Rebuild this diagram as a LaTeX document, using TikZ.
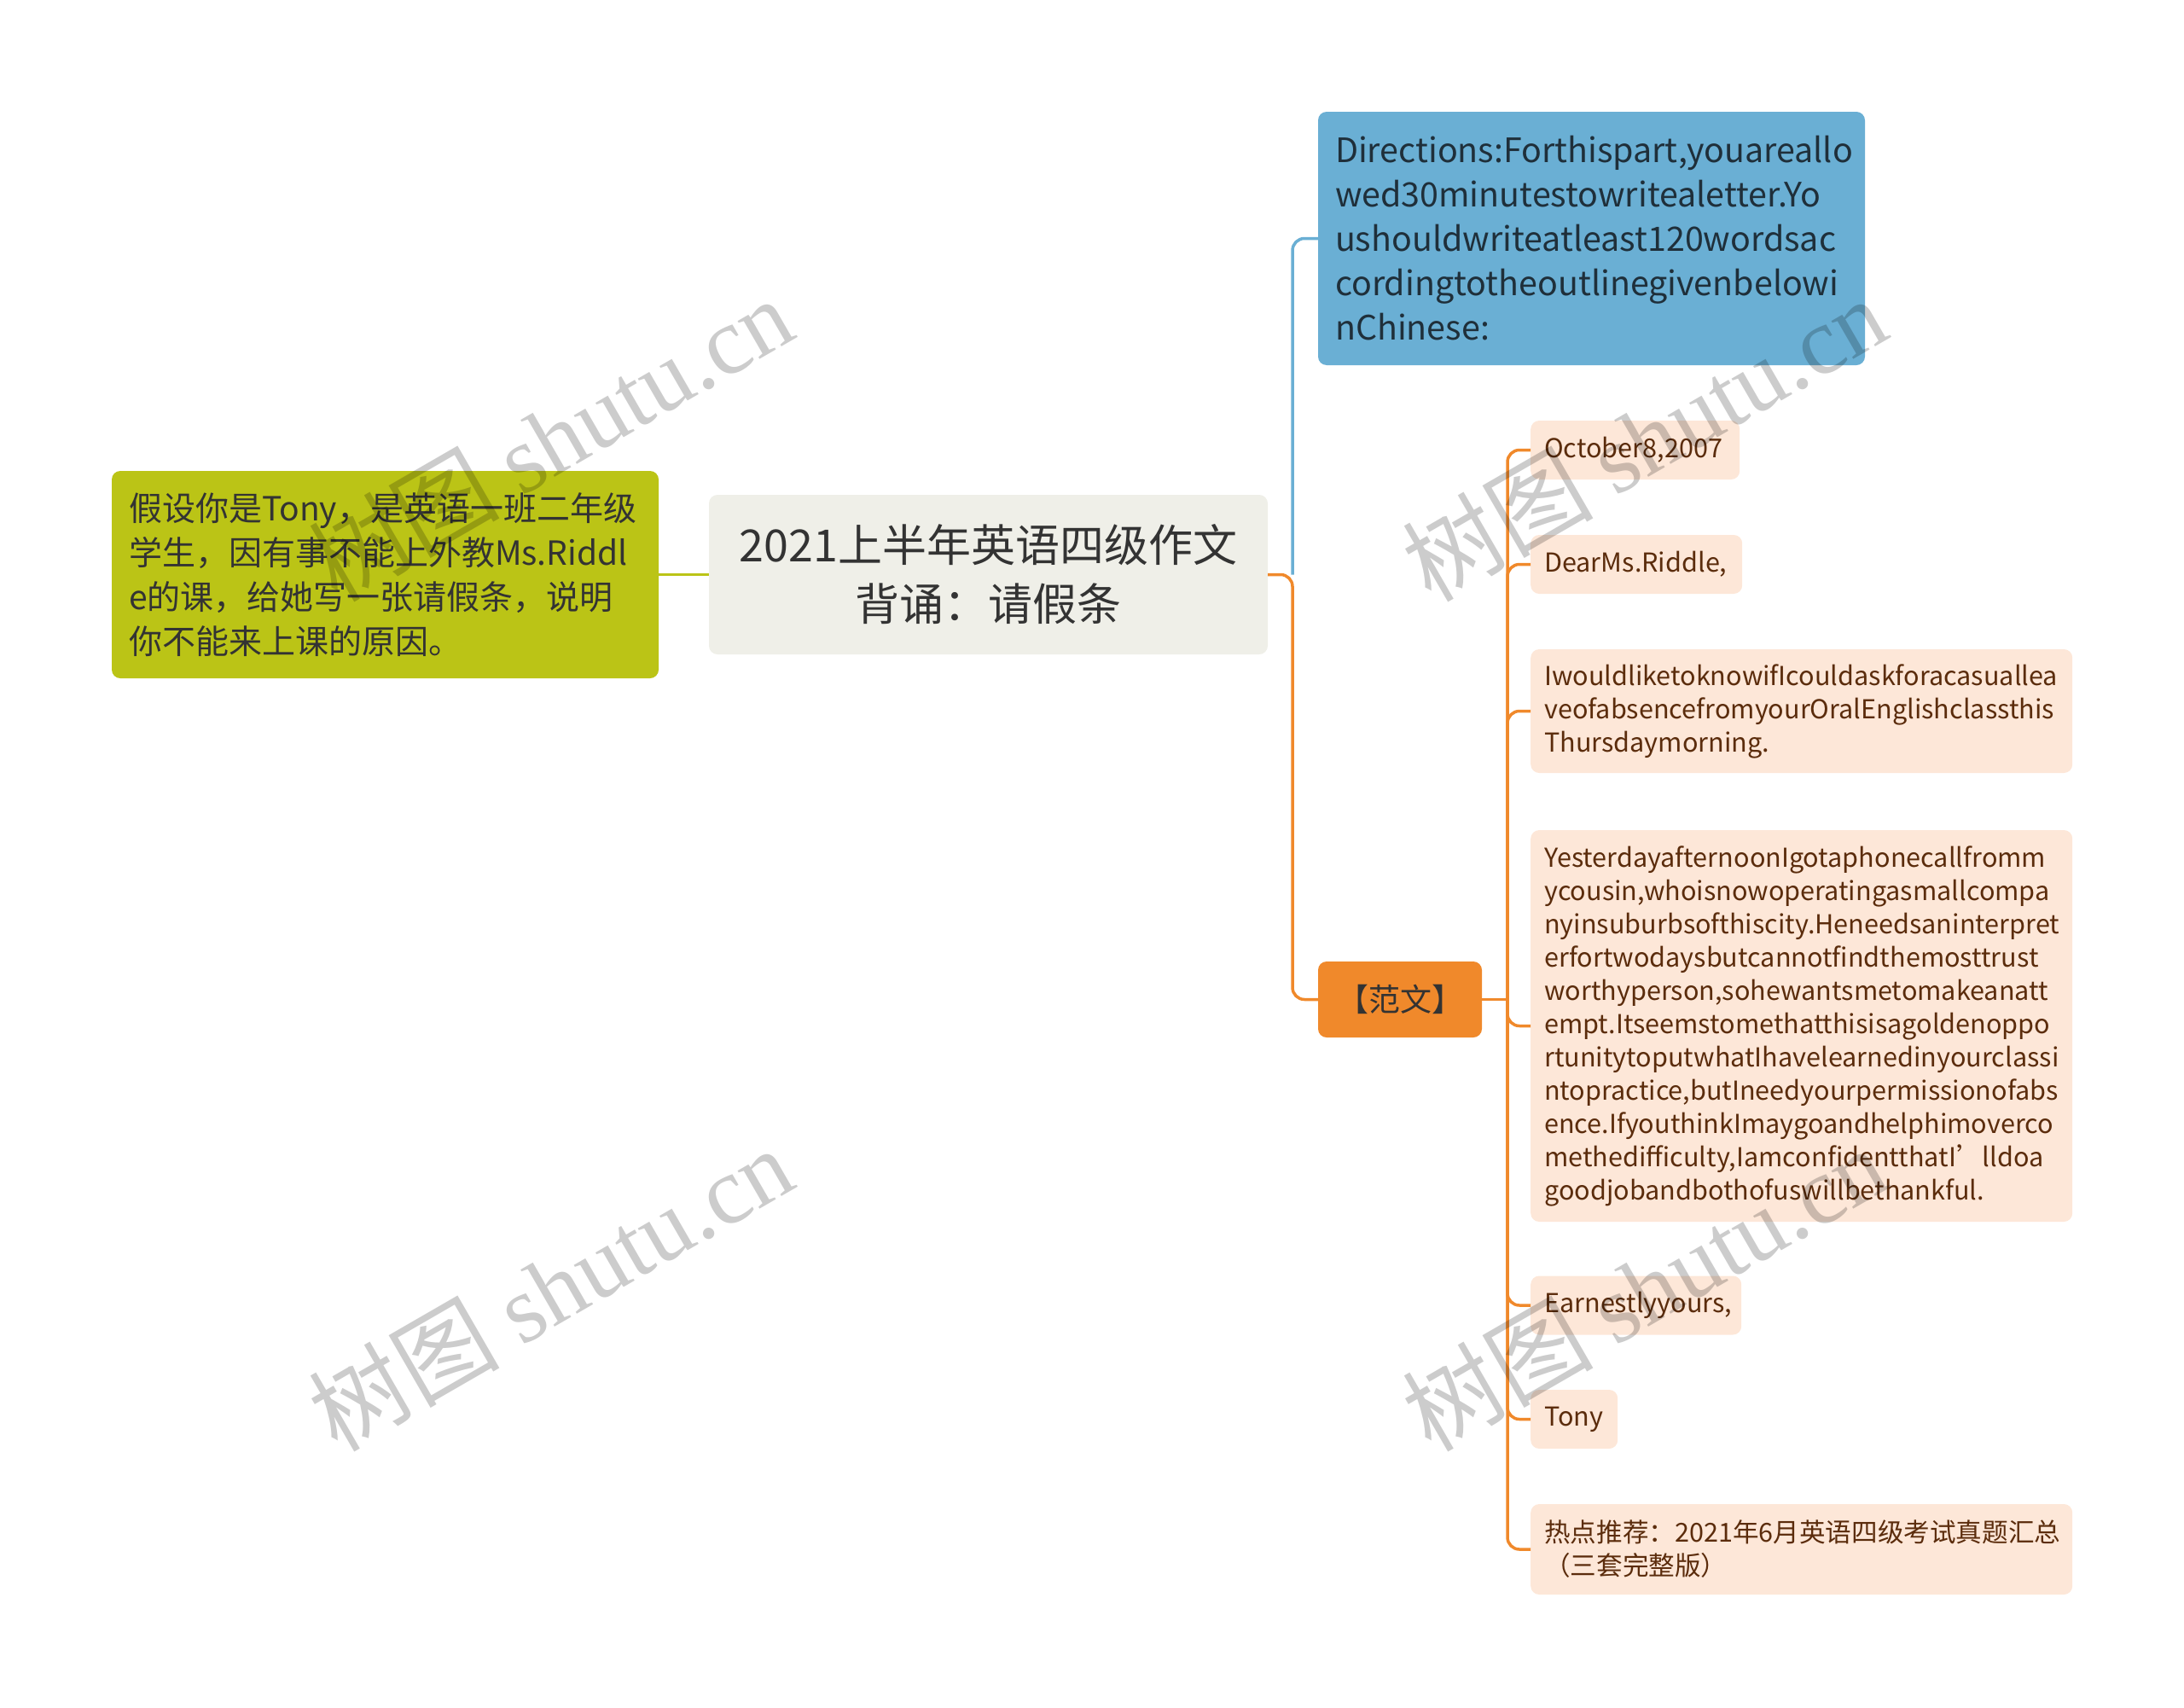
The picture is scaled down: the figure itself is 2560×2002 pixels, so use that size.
\documentclass[tikz,border=0pt]{standalone}
\usepackage{fontspec}
\setmainfont{Noto Sans CJK SC}
\newfontfamily\wmlat{Liberation Serif}
\hyphenpenalty=10000
\exhyphenpenalty=10000
\definecolor{greenc}{HTML}{BBC416}
\definecolor{bluec}{HTML}{6AAFD4}
\definecolor{orangec}{HTML}{F0892B}
\definecolor{leafc}{HTML}{FDE7D8}
\definecolor{centerc}{HTML}{EFEFE8}
\definecolor{leaftext}{HTML}{5B2C0C}
\definecolor{darktext}{HTML}{333333}
\definecolor{bluetext}{HTML}{1F2F3A}
\begin{document}
\begin{tikzpicture}[x=1pt,y=-1pt,
  boxbase/.style={rounded corners=10pt, inner ysep=0pt, align=left},
  gbox/.style={boxbase, fill=greenc, text=darktext, inner xsep=20pt, text width=601pt, minimum height=243pt, font=\fontsize{39}{52}\selectfont},
  cbox/.style={boxbase, fill=centerc, text=darktext, align=center, inner xsep=20pt, text width=615pt, minimum height=187pt, font=\fontsize{52}{69}\selectfont},
  bbox/.style={boxbase, fill=bluec, text=bluetext, inner xsep=20pt, text width=601pt, minimum height=297pt, font=\fontsize{39.4}{52}\selectfont},
  obox/.style={boxbase, fill=orangec, text=darktext, align=center, inner xsep=10pt, text width=172pt, minimum height=89pt, font=\fontsize{37}{42}\selectfont},
  leafbox/.style={boxbase, fill=leafc, text=leaftext, inner xsep=16pt, minimum height=69pt, anchor=west, font=\fontsize{30.6}{39}\selectfont},
  gline/.style={draw=greenc, line width=3.5pt},
  bline/.style={draw=bluec, line width=3.5pt, rounded corners=14pt},
  oline/.style={draw=orangec, line width=3.5pt, rounded corners=14pt},
  wm/.style={text=black, opacity=0.2, rotate=30, font=\fontsize{112}{112}\selectfont, inner sep=0pt}
]
\useasboundingbox (0,0) rectangle (2560,2002);

% main nodes
\node[gbox] (g) at (451.5,673.5) {假设你是Tony，是英语一班二年级\\学生，因有事不能上外教Ms.Riddl\\e的课，给她写一张请假条，说明\\你不能来上课的原因。};
\node[cbox] (c) at (1158.5,673.5) {2021上半年英语四级作文\\背诵：请假条};
\node[bbox] (b) at (1865.5,279.5) {Directions:Forthispart,youareallo\\wed30minutestowritealetter.Yo\\ushouldwriteatleast120wordsac\\cordingtotheoutlinegivenbelowi\\nChinese:};
\node[obox] (f) at (1641,1171.5) {【范文】};

% leaves
\node[leafbox, text width=213pt] (l1) at (1794,527.5) {October8,2007};
\node[leafbox, text width=216pt] (l2) at (1794,661.5) {DearMs.Riddle,};
\node[leafbox, text width=603pt, minimum height=145pt] (l3) at (1794,833.5) {Iwouldliketoknowif\mbox{I}couldaskforacasuallea\\veofabsencefromyourOralEnglishclassthis\\Thursdaymorning.};
\node[leafbox, text width=603pt, minimum height=459pt] (l4) at (1794,1202.5) {YesterdayafternoonIgotaphonecallfromm\\ycousin,whoisnowoperatingasmallcompa\\nyinsuburbsofthiscity.Heneedsaninterpret\\erfortwodaysbutcannotfindthemosttrust\\worthyperson,sohewantsmetomakeanatt\\empt.Itseemstomethatthisisagoldenoppo\\rtunitytoputwhatIhavelearnedinyourclassi\\ntopractice,butIneedyourpermissionofabs\\ence.IfyouthinkImaygoandhelphimoverco\\methedifficulty,Iamconfidentthat\mbox{I’}lldoa\\goodjobandbothofuswillbethankful.};
\node[leafbox, text width=215pt] (l5) at (1794,1530) {Earnestlyyours,};
\node[leafbox, text width=70pt] (l6) at (1794,1663.5) {Tony};
\node[leafbox, text width=603pt, minimum height=106pt] (l7) at (1794,1816) {热点推荐：2021年6月英语四级考试真题汇总\\（三套完整版）};

% junctions
\coordinate (j1) at (1515,673.5);
\coordinate (j2) at (1767,1171.5);

% connectors
\draw[gline] (g.east) -- (c.west);
\draw[bline] (j1) |- (b.west);
\draw[oline] (c.east) -- (j1) |- (f.west);
\draw[oline] (f.east) -- (j2);
\foreach \n in {l1,l2,l3,l4,l5,l6,l7}{
  \draw[oline] (j2) |- (\n.west);
}

% watermarks
\node[wm] (w1) at (645,514) {树图 {\wmlat shutu.cn}};
\node[wm] (w2) at (1927,514) {树图 {\wmlat shutu.cn}};
\node[wm] (w3) at (645,1510) {树图 {\wmlat shutu.cn}};
\node[wm] (w4) at (1927,1510) {树图 {\wmlat shutu.cn}};
\end{tikzpicture}
\end{document}
